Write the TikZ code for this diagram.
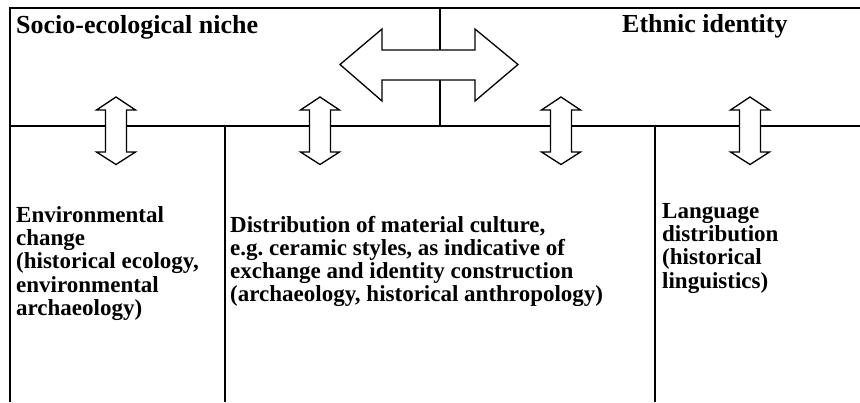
\documentclass[tikz,border=0pt]{standalone}
\usepackage{fontspec}
\setmainfont{Liberation Serif}
\begin{document}
\frenchspacing
\begin{tikzpicture}[x=1pt,y=-1pt,
  frame/.style={line width=1.1pt,black},
  bigarrow/.style={draw=black,fill=white,line width=1.3pt,line join=miter},
  title/.style={anchor=base west,inner sep=0pt,font=\fontsize{26}{28}\selectfont\bfseries},
  body/.style={anchor=base west,inner sep=0pt,font=\fontsize{23}{23.4}\selectfont\bfseries}]
\useasboundingbox (0,0) rectangle (860,402);
% frame lines
\draw[frame] (860,8) -- (10,8) -- (10,402);
\draw[frame] (10,126) -- (860,126);
\draw[frame] (440,8) -- (440,126);
\draw[frame] (225,126) -- (225,402);
\draw[frame] (655,126) -- (655,402);
% horizontal double arrow
\draw[bigarrow] (340,64.5) -- (382,29) -- (382,50) -- (475,50) -- (475,29) -- (518,64.5)
  -- (475,101) -- (475,80) -- (382,80) -- (382,101) -- cycle;
% vertical double arrows
\foreach \cx in {116,320,561,750}{
  \draw[bigarrow] (\cx,97) -- (\cx+19.5,110) -- (\cx+10.5,110) -- (\cx+10.5,152) -- (\cx+19.5,152)
    -- (\cx,164.5) -- (\cx-19.5,152) -- (\cx-10.5,152) -- (\cx-10.5,110) -- (\cx-19.5,110) -- cycle;
}
% titles
\node[title] (niche) at (16,33) {Socio-ecological niche};
\node[title] (ethnic) at (622,32.5) {Ethnic identity};
% body texts
\node[body] (env) at (16,222) {\parbox[t]{200pt}{\baselineskip=23.4pt Environmental\\change\\(historical ecology,\\environmental\\archaeology)}};
\node[body] (dist) at (230,232) {\parbox[t]{420pt}{\baselineskip=23.2pt Distribution of material culture,\\e.g. ceramic styles, as indicative of\\exchange and identity construction\\(archaeology, historical anthropology)}};
\node[body] (lang) at (662,218) {\parbox[t]{195pt}{\baselineskip=23.4pt Language\\distribution\\(historical\\linguistics)}};
\end{tikzpicture}
\end{document}
